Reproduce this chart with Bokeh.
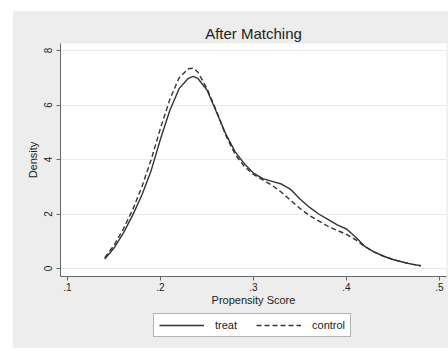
from bokeh.plotting import figure
from bokeh.layouts import column
from bokeh.models import Legend, LegendItem, FixedTicker, Range1d
from bokeh.embed import file_html
from bokeh.resources import INLINE

score = [0.14, 0.15, 0.16, 0.17, 0.18, 0.19, 0.20, 0.21, 0.22, 0.23, 0.235, 0.24, 0.25,
         0.26, 0.27, 0.28, 0.29, 0.30, 0.31, 0.32, 0.33, 0.34, 0.35, 0.36, 0.37,
         0.38, 0.39, 0.40, 0.41, 0.42, 0.43, 0.44, 0.45, 0.46, 0.47, 0.48]
treat = [0.35, 0.75, 1.3, 1.95, 2.7, 3.6, 4.75, 5.8, 6.6, 6.98, 7.05, 6.98, 6.55,
         5.75, 4.95, 4.3, 3.85, 3.5, 3.3, 3.2, 3.1, 2.9, 2.55, 2.25, 2.0,
         1.8, 1.6, 1.45, 1.15, 0.8, 0.6, 0.45, 0.33, 0.24, 0.16, 0.1]
control = [0.4, 0.85, 1.45, 2.15, 3.0, 4.0, 5.15, 6.2, 7.0, 7.33, 7.35, 7.22, 6.6,
           5.8, 4.9, 4.2, 3.75, 3.45, 3.25, 3.05, 2.8, 2.5, 2.2, 1.95, 1.75,
           1.55, 1.4, 1.25, 1.05, 0.8, 0.6, 0.45, 0.33, 0.24, 0.16, 0.1]
series_labels = ["treat", "control"]
x_ticks = [0.1, 0.2, 0.3, 0.4, 0.5]
x_tick_labels = [".1", ".2", ".3", ".4", ".5"]
y_ticks = [0, 2, 4, 6, 8]
y_tick_labels = ["0", "2", "4", "6", "8"]

FONT = "Liberation Sans"
BG = "#ededed"
INK = "#333333"
TXT = "#222222"

p = figure(width=435, height=297, output_backend="svg", toolbar_location=None,
           x_range=Range1d(0.09247, 0.50753), y_range=Range1d(-0.2936, 8.257),
           title="After Matching")
p.min_border_left = 47
p.min_border_right = 2
p.min_border_top = 32
p.min_border_bottom = 32
p.border_fill_color = BG
p.background_fill_color = "white"
p.outline_line_color = None

p.title.align = "center"
p.title.text_font = FONT
p.title.text_font_size = "15px"
p.title.text_font_style = "normal"
p.title.text_color = TXT
p.title.standoff = 4

for ax in (p.xaxis[0], p.yaxis[0]):
    ax.axis_line_color = "#666666"
    ax.major_tick_line_color = "#666666"
    ax.major_tick_out = 4
    ax.major_tick_in = 0
    ax.minor_tick_line_color = None
    ax.major_label_text_font = FONT
    ax.major_label_text_font_size = "10px"
    ax.major_label_text_color = TXT
    ax.axis_label_text_font = FONT
    ax.axis_label_text_font_size = "11px"
    ax.axis_label_text_font_style = "normal"
    ax.axis_label_text_color = TXT

p.xaxis.ticker = FixedTicker(ticks=x_ticks)
p.xaxis.major_label_overrides = dict(zip(x_ticks, x_tick_labels))
p.xaxis.axis_label = "Propensity Score"
p.xaxis.major_label_standoff = 2
p.xaxis.axis_label_standoff = 0

p.yaxis.ticker = FixedTicker(ticks=y_ticks)
p.yaxis.major_label_overrides = dict(zip(y_ticks, y_tick_labels))
p.yaxis.major_label_orientation = "vertical"
p.yaxis.axis_label = "Density"
p.yaxis.major_label_standoff = 4
p.yaxis.axis_label_standoff = 3

p.xgrid.grid_line_color = None
p.ygrid.ticker = FixedTicker(ticks=y_ticks)
p.ygrid.grid_line_color = "#eaeaea"
p.ygrid.grid_line_width = 1

p.line(score, treat, line_color=INK, line_width=1.4)
p.line(score, control, line_color=INK, line_width=1.4, line_dash="5 3")

# legend strip below the plot (Stata places the legend outside the plot region);
# its key renderers carry the same series but lie outside this strip's view
leg = figure(width=435, height=40, output_backend="svg", toolbar_location=None,
             x_range=Range1d(0, 1), y_range=Range1d(100, 101))
leg.min_border = 0
leg.axis.visible = False
leg.grid.visible = False
leg.outline_line_color = None
leg.border_fill_color = BG
leg.background_fill_color = BG
k1 = leg.line(score, treat, line_color=INK, line_width=1.4)
k2 = leg.line(score, control, line_color=INK, line_width=1.4, line_dash="5 3")

legend = Legend(items=[LegendItem(label=series_labels[0], renderers=[k1]),
                       LegendItem(label=series_labels[1], renderers=[k2])],
                orientation="horizontal", location=(93, 11))
legend.label_text_font = FONT
legend.label_text_font_size = "11px"
legend.label_text_color = TXT
legend.glyph_width = 45
legend.glyph_height = 12
legend.label_standoff = 11
legend.spacing = 19
legend.padding = 5
legend.margin = 0
legend.label_height = 12
legend.border_line_color = "#666666"
legend.border_line_width = 1
legend.background_fill_color = "white"
legend.background_fill_alpha = 1.0
leg.add_layout(legend, "center")

layout = column(p, leg, spacing=0)
layout.margin = (11, 0, 0, 13)
layout.background = BG
open("out.html", "w").write(file_html(layout, INLINE))
